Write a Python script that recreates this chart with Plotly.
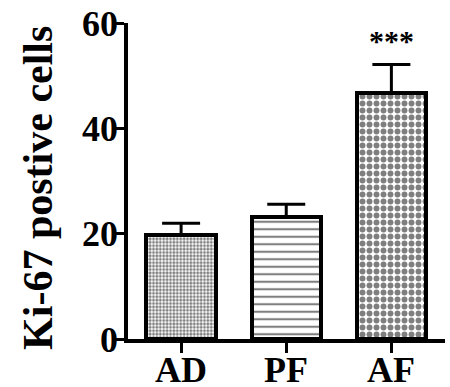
import plotly.graph_objects as go

categories = ["AD", "PF", "AF"]
means = [19.8, 23.2, 46.8]
errors = [2.2, 2.4, 5.3]
tick_vals = [0, 20, 40, 60]
significance = ["", "", "***"]
y_title = "Ki-67 postive cells"

FONT = "Liberation Serif"

fig = go.Figure()
patterns = [
    dict(shape=".", size=3.4, solidity=0.55, fgcolor="black", bgcolor="white"),
    dict(shape="-", size=7.5, solidity=0.28, fgcolor="black", bgcolor="white"),
    dict(shape=".", size=7, solidity=0.55, fgcolor="black", bgcolor="white"),
]
for i, c in enumerate(categories):
    fig.add_trace(go.Bar(
        x=[i], y=[means[i]], width=0.66,
        marker=dict(color="white", line=dict(color="black", width=4),
                    pattern=patterns[i]),
        error_y=dict(type="data", symmetric=False, array=[errors[i]],
                     arrayminus=[0], color="black", thickness=3, width=19),
        showlegend=False,
    ))
    if significance[i]:
        fig.add_annotation(x=i, y=means[i] + errors[i] + 1.0, text="<b>%s</b>" % significance[i],
                           showarrow=False, yanchor="bottom",
                           font=dict(family=FONT, size=30, color="black"))
    fig.add_annotation(x=i, xref="x", yref="paper", y=0, yshift=-9,
                       text="<b>%s</b>" % c, showarrow=False, yanchor="top",
                       font=dict(family=FONT, size=36, color="black"))

fig.add_annotation(xref="paper", yref="paper", x=-0.284, y=0.478,
                   text="<b>%s</b>" % y_title, textangle=-90, showarrow=False,
                   xanchor="center", yanchor="middle",
                   font=dict(family=FONT, size=42, color="black"))

fig.update_layout(
    width=450, height=387,
    margin=dict(l=128, r=5, t=23, b=48, autoexpand=False),
    plot_bgcolor="white", paper_bgcolor="white",
    font=dict(family=FONT, color="black", size=34, weight="bold"),
    bargap=0,
)
fig.update_xaxes(
    range=[-0.505, 2.51], tickvals=[0, 1, 2], showticklabels=False,
    showline=True, linecolor="black", linewidth=3.5,
    ticks="outside", ticklen=10, tickwidth=3, tickcolor="black",
    showgrid=False, zeroline=False, automargin=False,
)
fig.update_yaxes(
    range=[0, 60], tickvals=tick_vals,
    showline=True, linecolor="black", linewidth=3.5,
    ticks="outside", ticklen=9, tickwidth=3, tickcolor="black",
    showgrid=False, zeroline=False, ticklabelstandoff=-10, automargin=False,
    tickfont=dict(family=FONT, size=36, color="black", weight="bold"),
)

fig.write_html("out.html", config={"displayModeBar": False},
               post_script="document.body.style.margin='0';")
